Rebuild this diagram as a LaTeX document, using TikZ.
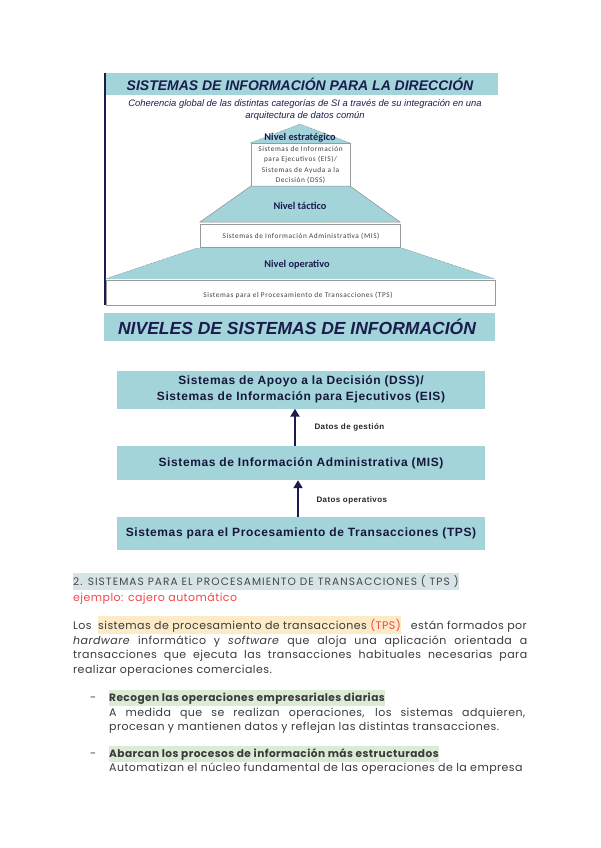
\documentclass[tikz,border=0pt]{standalone}
\usepackage{fontspec}
\setmainfont{Poppins}[LetterSpace=4]
\newfontfamily\headf{Poppins}[LetterSpace=10]
\newfontfamily\arialf{Liberation Sans}
\newfontfamily\arialsp{Liberation Sans}[LetterSpace=5]
\newfontfamily\calf{Carlito}
\newfontfamily\calsp{Carlito}[LetterSpace=8]
\usetikzlibrary{arrows.meta}
\definecolor{barteal}{HTML}{A3D4D9}
\definecolor{navy}{HTML}{1B1C4E}
\definecolor{boxgray}{HTML}{9A9A9A}
\definecolor{bodygray}{HTML}{3A3A3A}
\definecolor{redtxt}{HTML}{F0484A}
\definecolor{hlblue}{HTML}{D6E4E8}
\definecolor{hlorange}{HTML}{FDEBC8}
\definecolor{hlgreen}{HTML}{DCEBD6}
\tikzset{
  wbox/.style={draw=boxgray, fill=white, line width=0.6pt},
  tbox/.style={fill=barteal, minimum width=368pt, align=center, inner sep=0pt,
    font=\arialsp\bfseries\fontsize{12}{16}\selectfont, text=navy!80!black},
  lvltxt/.style={font=\calf\bfseries\fontsize{10.3}{11}\selectfont, text=navy},
  smalltxt/.style={font=\calsp\fontsize{7.3}{10.5}\selectfont, text=black!75},
  uparr/.style={navy, line width=2.6pt, -{Triangle[width=9pt,length=8pt]}},
  arrlbl/.style={anchor=west, font=\arialsp\bfseries\fontsize{8}{9}\selectfont, text=black!85},
  body/.style={anchor=base west, inner sep=0pt, text=bodygray, font=\fontsize{11}{13}\selectfont},
}
\begin{document}
\begin{tikzpicture}[x=1pt,y=-1pt]
\useasboundingbox (0,0) rectangle (600,848);

% sistemas de informacion para la direccion
\fill[barteal] (105,73) rectangle (498,95);
\draw[navy, line width=1.5pt] (105,73) -- (105,305);
\node[font=\arialf\bfseries\itshape\fontsize{14}{16}\selectfont, text=navy] (dirtitle) at (300,84.5)
  {SISTEMAS DE INFORMACIÓN PARA LA DIRECCIÓN};
\node[align=center, font=\arialf\itshape\fontsize{9.4}{12}\selectfont, text=navy] (dirsub) at (305,110)
  {Coherencia global de las distintas categorías de SI a través de su integración en una\\arquitectura de datos común};

% piramide
\fill[barteal] (300,124) -- (350,143) -- (250,143) -- cycle;
\draw[black!70, densely dotted] (250,143) -- (300,124) -- (350,143);
\node[lvltxt] (estr) at (300,137.5) {Nivel estratégico};
\draw[wbox] (251,143) rectangle (350,186);
\node[smalltxt, align=center] (eisdss) at (300.5,165)
  {Sistemas de Información\\para Ejecutivos (EIS)/\\Sistemas de Ayuda a la\\Decisión (DSS)};

\filldraw[fill=barteal, draw=black!45, line width=0.5pt] (251,186) -- (350,186) -- (400,222) -- (200,222) -- cycle;
\node[lvltxt] (tact) at (300,205.5) {Nivel táctico};
\draw[wbox] (200,224) rectangle (400,247);
\node[smalltxt] (misp) at (301,236) {Sistemas de Información Administrativa (MIS)};

\fill[barteal] (197,248) -- (402,248) -- (495,279) -- (105,279) -- cycle;
\draw[black!70, densely dotted] (197,248) -- (105,279);
\draw[black!70, densely dotted] (402,248) -- (495,279);
\node[lvltxt] (oper) at (297,265) {Nivel operativo};
\draw[wbox] (106,280) rectangle (495,305);
\node[smalltxt] (tpsp) at (298,295) {Sistemas para el Procesamiento de Transacciones (TPS)};

% niveles de sistemas de informacion
\fill[barteal] (104,313) rectangle (495,341);
\node[font=\arialf\bfseries\itshape\fontsize{17.5}{20}\selectfont, text=navy] (nivtitle) at (297,327)
  {NIVELES DE SISTEMAS DE INFORMACIÓN};

\node[tbox, minimum height=38pt] (dss) at (301,389.5)
  {Sistemas de Apoyo a la Decisión (DSS)/\\Sistemas de Información para Ejecutivos (EIS)};
\node[tbox, minimum height=34pt] (mis) at (301,463) {Sistemas de Información Administrativa (MIS)};
\node[tbox, minimum height=33pt] (tps) at (301,533.5) {Sistemas para el Procesamiento de Transacciones (TPS)};

\draw[uparr] ([xshift=-6pt]mis.north) -- ([xshift=-6pt]dss.south);
\draw[uparr] ([xshift=-3pt]tps.north) -- ([xshift=-3pt]mis.south);
\node[arrlbl] (gest) at (311,427) {Datos de gestión};
\node[arrlbl] (opdat) at (313,500) {Datos operativos};

% texto
\node[body, fill=hlblue, inner ysep=2.5pt, text=black!72, font=\headf\fontsize{10.6}{12}\selectfont] (head) at (73,585.5)
  {2. SISTEMAS PARA EL PROCESAMIENTO DE TRANSACCIONES ( TPS )};
\node[body, text=redtxt] (ejem) at (73,601) {ejemplo: cajero automático};

\node[body] (p1a) at (73,629) {Los};
\node[body, fill=hlorange, inner ysep=2.5pt] (p1b) at (98,629)
  {sistemas de procesamiento de transacciones \textcolor{redtxt}{(TPS)}};
\node[body, anchor=base east] (p1c) at (527,629) {están formados por};
\node[body] (p2) at (73,644) {\makebox[454pt][s]{\textit{hardware} informático y \textit{software} que aloja una aplicación orientada a}};
\node[body] (p3) at (73,658) {\makebox[454pt][s]{transacciones que ejecuta las transacciones habituales necesarias para}};
\node[body] (p4) at (73,673) {realizar operaciones comerciales.};

\node[body] (dash1) at (90,701) {-};
\node[body, fill=hlgreen, inner ysep=2.5pt, font=\bfseries\fontsize{10.6}{12}\selectfont] (b1) at (109,701)
  {Recogen las operaciones empresariales diarias};
\node[body] (b1a) at (109,716) {\makebox[416pt][s]{A medida que se realizan operaciones, los sistemas adquieren,}};
\node[body] (b1b) at (109,730) {procesan y mantienen datos y reflejan las distintas transacciones.};

\node[body] (dash2) at (90,757) {-};
\node[body, fill=hlgreen, inner ysep=2.5pt, font=\bfseries\fontsize{10.6}{12}\selectfont] (b2) at (109,757)
  {Abarcan los procesos de información más estructurados};
\node[body] (b2a) at (109,771.5) {Automatizan el núcleo fundamental de las operaciones de la empresa};
\end{tikzpicture}
\end{document}
